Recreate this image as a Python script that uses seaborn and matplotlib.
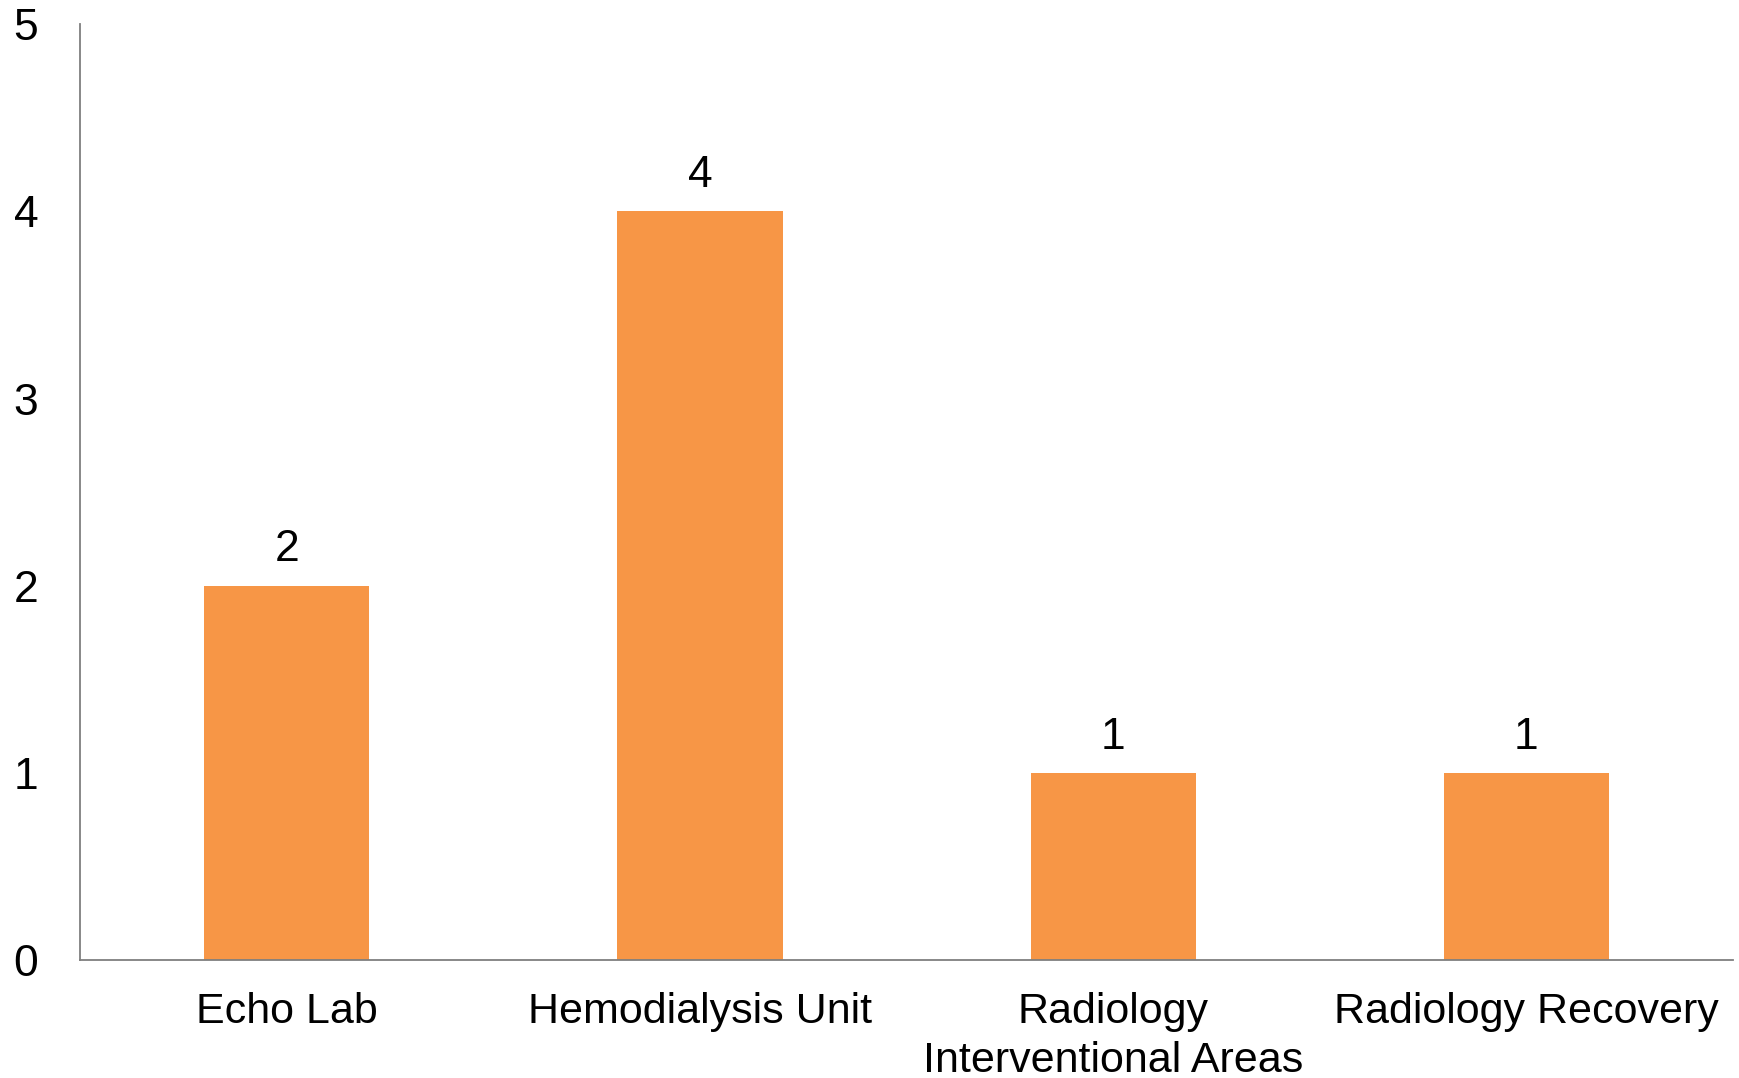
import matplotlib
matplotlib.use("Agg")
import matplotlib.pyplot as plt
import seaborn as sns
import pandas as pd

# chart data
units = ["Echo Lab", "Hemodialysis Unit", "Radiology\nInterventional Areas", "Radiology Recovery"]
counts = [2, 4, 1, 1]
y_ticks = [0, 1, 2, 3, 4, 5]

sns.set_theme(style="white")
plt.rcParams["font.family"] = ["Liberation Sans", "DejaVu Sans"]

df = pd.DataFrame({"unit": units, "count": counts})

fig = plt.figure(figsize=(17.4, 10.78), dpi=100)
ax = fig.add_axes([0.046, 0.1095, 0.95, 0.868])

sns.barplot(data=df, x="unit", y="count", color="#F79646", saturation=1,
            width=0.40, linewidth=0, ax=ax)

# value labels above bars
for c in ax.containers:
    ax.bar_label(c, labels=[str(v) for v in counts], padding=11, fontsize=32, color="black")

ax.set_xlim(-0.5, 3.5)
ax.set_ylim(0, 5)
ax.set_yticks(y_ticks)
ax.set_xlabel("")
ax.set_ylabel("")
ax.tick_params(axis="y", length=0, pad=30, labelsize=32, labelcolor="black")
ax.tick_params(axis="x", length=0, pad=23, labelsize=31, labelcolor="black")
for lbl in ax.get_xticklabels():
    lbl.set_linespacing(1.3)

for side in ["top", "right"]:
    ax.spines[side].set_visible(False)
for side in ["left", "bottom"]:
    ax.spines[side].set_color("#7f7f7f")
    ax.spines[side].set_linewidth(1.3)

fig.savefig("out.png", dpi=100)
